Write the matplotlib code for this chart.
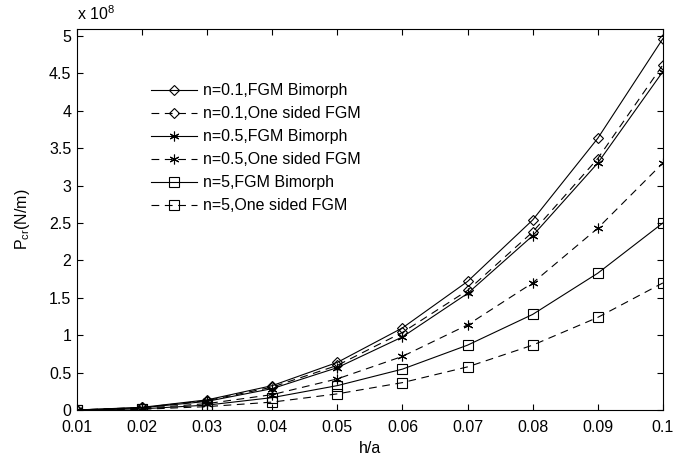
import matplotlib.pyplot as plt
import numpy as np

plt.rcParams['font.family'] = ['Liberation Sans', 'DejaVu Sans']
plt.rcParams['mathtext.fontset'] = 'custom'
plt.rcParams['mathtext.rm'] = 'Liberation Sans'

# h/a values
h_a = [0.01, 0.02, 0.03, 0.04, 0.05, 0.06, 0.07, 0.08, 0.09, 0.1]

# critical load, in units of 1e8 N/m
n01_bimorph = [0.005, 0.04, 0.14, 0.33, 0.64, 1.10, 1.72, 2.54, 3.63, 4.96]
n01_onesided = [0.005, 0.038, 0.13, 0.31, 0.60, 1.04, 1.60, 2.38, 3.36, 4.61]
n05_bimorph = [0.004, 0.035, 0.12, 0.29, 0.57, 0.98, 1.56, 2.33, 3.30, 4.52]
n05_onesided = [0.003, 0.027, 0.09, 0.21, 0.42, 0.72, 1.14, 1.70, 2.43, 3.30]
n5_bimorph = [0.0025, 0.02, 0.07, 0.17, 0.33, 0.55, 0.87, 1.28, 1.83, 2.50]
n5_onesided = [0.002, 0.014, 0.05, 0.11, 0.22, 0.37, 0.58, 0.87, 1.24, 1.70]

labels = ['n=0.1,FGM Bimorph', 'n=0.1,One sided FGM',
          'n=0.5,FGM Bimorph', 'n=0.5,One sided FGM',
          'n=5,FGM Bimorph', 'n=5,One sided FGM']

fig = plt.figure(figsize=(6.75, 4.59), dpi=100)
ax = fig.add_axes([0.114, 0.106, 0.868, 0.831])

asterisk = (6, 2, 0)
series = [
    (n01_bimorph, 'D', 5.5, '-'),
    (n01_onesided, 'D', 5.5, '--'),
    (n05_bimorph, asterisk, 7, '-'),
    (n05_onesided, asterisk, 7, '--'),
    (n5_bimorph, 's', 7.5, '-'),
    (n5_onesided, 's', 7.5, '--'),
]
for (vals, mk, ms, ls), lab in zip(series, labels):
    line, = ax.plot(h_a, vals, color='black', lw=0.8, marker=mk, ms=ms,
                    mfc='none', mec='black', mew=0.8, label=lab)
    if ls == '--':
        line.set_dashes((7, 5))

ax.set_xlim(0.01, 0.1)
ax.set_ylim(0, 5.09)
ax.set_xticks(h_a)
ax.set_xticklabels(['0.01', '0.02', '0.03', '0.04', '0.05', '0.06', '0.07',
                    '0.08', '0.09', '0.1'])
ax.set_yticks(np.arange(0, 5.01, 0.5))
ax.set_yticklabels(['0', '0.5', '1', '1.5', '2', '2.5', '3', '3.5', '4',
                    '4.5', '5'])
ax.tick_params(direction='in', top=True, right=True, labelsize=11.5,
               length=4, width=0.8)
ax.tick_params(axis='x', pad=7)
ax.tick_params(axis='y', pad=4)
for sp in ax.spines.values():
    sp.set_linewidth(0.8)

ax.set_xlabel('h/a', fontsize=11.5, labelpad=4)
ax.set_ylabel(r'P$_{\rm cr}$(N/m)', fontsize=11.5, labelpad=12)
ax.text(0.0, 1.015, r'x 10$^8$', transform=ax.transAxes, fontsize=11.5,
        ha='left', va='bottom')

ax.legend(loc='upper left', bbox_to_anchor=(0.115, 0.874), frameon=False,
          fontsize=11.5, handlelength=2.9, handletextpad=0.4,
          labelspacing=0.5, borderaxespad=0)

fig.savefig('out.png', dpi=100)
